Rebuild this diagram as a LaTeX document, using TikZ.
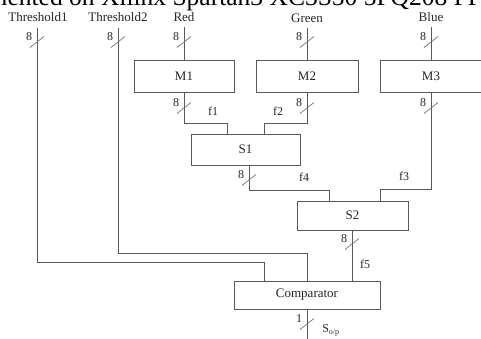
\documentclass[tikz,border=0pt]{standalone}
\usepackage{fontspec}
\setmainfont{Liberation Serif}
\usetikzlibrary{calc}
\newcommand{\busmark}[3]{%
  \draw[mark line] ($(#1)+(-7,5.5)$) -- ($(#1)+(7,-5.5)$);
  \node[small] (#3) at ($(#1)+(-8,-5)$) {#2};}
\begin{document}
\begin{tikzpicture}[x=1pt,y=-1pt,
  wire/.style={draw=black!65, line width=0.8pt},
  mark line/.style={draw=black!55, line width=0.7pt},
  blk/.style={draw=black!65, line width=0.8pt, inner sep=0, minimum height=30pt,
    font=\fontsize{13}{15}\selectfont, text=black!85},
  lbl/.style={inner sep=0, font=\fontsize{13}{15}\selectfont, text=black!85},
  small/.style={inner sep=0, font=\fontsize{12}{14}\selectfont, text=black!85}]
\useasboundingbox (0,0) rectangle (481,338);
\clip (0,0) rectangle (481,338);
% title (cut off at the top)
\node[anchor=base west, inner sep=0, font=\fontsize{25.5}{28}\selectfont] (title) at (-72,5) {Implemented on Xilinx Spartan3 XC3S50 5PQ208 FPGA};
% input labels
\node[lbl] (th1) at (38,17) {Threshold1};
\node[lbl] (th2) at (118,17) {Threshold2};
\node[lbl] (red) at (184,17) {Red};
\node[lbl] (green) at (307,18) {Green};
\node[lbl] (blue) at (431,17) {Blue};
% blocks
\node[blk, minimum width=100pt, minimum height=32pt] (M1) at (184,76) {M1};
\node[blk, minimum width=102pt, minimum height=32pt] (M2) at (307,76) {M2};
\node[blk, minimum width=102pt, minimum height=32pt] (M3) at (431,76) {M3};
\node[blk, minimum width=109pt, minimum height=31pt] (S1) at (245.5,149.5) {S1};
\node[blk, minimum width=111pt, minimum height=29pt] (S2) at (352.5,215.5) {S2};
\node[blk, minimum width=146pt, minimum height=28pt] (cmp) at (307,295) {Comparator};
% coordinates
\coordinate (t1bend) at (37,262);
\coordinate (t2bend) at (118,253);
\coordinate (m1bend) at (184,123);
\coordinate (m2bend) at (307,123);
\coordinate (m3bend) at (431,189);
\coordinate (s1bend) at (249,190);
\coordinate (outend) at (307,340);
% wires
\draw[wire] (37,28) -- (t1bend) -| ([xshift=-43pt]cmp.north);
\draw[wire] (118,28) -- (t2bend) -| (cmp.north);
\draw[wire] ([yshift=-5pt]red.south) -- (M1.north);
\draw[wire] ([yshift=-5pt]green.south) -- (M2.north);
\draw[wire] ([yshift=-5pt]blue.south) -- (M3.north);
\draw[wire] (M1.south) -- (m1bend) -| ([xshift=-18.5pt]S1.north);
\draw[wire] (M2.south) -- (m2bend) -| ([xshift=18.5pt]S1.north);
\draw[wire] (M3.south) -- (m3bend) -| ([xshift=27.5pt]S2.north);
\draw[wire] ([xshift=3.5pt]S1.south) -- (s1bend) -| ([xshift=-23.5pt]S2.north);
\draw[wire] (S2.south) -- (S2.south |- cmp.north);
\draw[wire] (cmp.south) -- (outend);
% bus width marks
\busmark{37,42}{8}{b1}
\busmark{118,42}{8}{b2}
\busmark{184,42}{8}{b3}
\busmark{307,42}{8}{b4}
\busmark{431,42}{8}{b5}
\busmark{184,108}{8}{b6}
\busmark{307,108}{8}{b7}
\busmark{431,108}{8}{b8}
\busmark{249,180}{8}{b9}
\busmark{352,244}{8}{b10}
\busmark{307,324}{1}{b11}
% signal labels
\node[small] (f1) at (213,111) {f1};
\node[small] (f2) at (278,111) {f2};
\node[small] (f3) at (404,176) {f3};
\node[small] (f4) at (304,177) {f4};
\node[small] (f5) at (365,264) {f5};
\node[small] (sop) at (331,330) {S\textsubscript{o/p}};
\end{tikzpicture}
\end{document}
